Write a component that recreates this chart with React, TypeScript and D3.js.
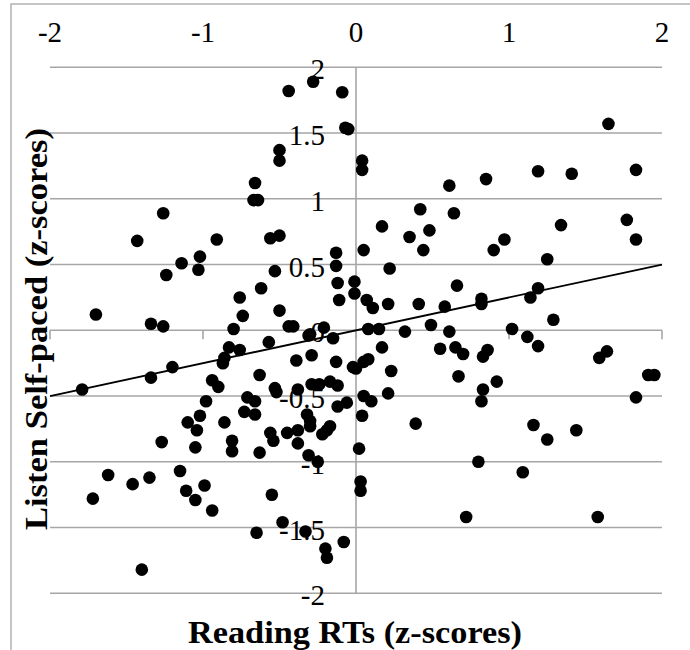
import React from "react";
import * as d3 from "d3";

// Reading RTs (z-scores)
const readingRT: number[] = [
  -1.26, -1.43, -0.91, -1.02, -1.14, -1.03, -1.24, -0.76, -0.74, -1.70,
  -1.34, -1.26, -0.80, -0.66, -0.67, -0.64, -0.44, -0.28, -0.09, -0.07,
  -0.05, -0.50, -0.50, 0.04, 0.04, 0.61, 0.42, 0.64, 0.17, 0.35,
  0.48, 0.44, -0.56, -0.50, -0.13, -0.13, 0.05, -0.53, 0.22, -0.62,
  -0.50, -0.12, -0.01, -0.01, -0.11, 0.07, 0.11, 0.21, 0.41, 0.58,
  0.66, -0.44, -0.41, -0.21, -0.30, 0.08, 0.15, 0.32, 0.49, 0.61,
  1.65, 1.19, 1.41, 1.83, 0.85, 1.34, 1.77, 1.83, 0.97, 0.90,
  1.25, 0.82, 0.82, 1.19, 1.14, 1.29, 1.02, 1.12, 1.19, -1.79,
  -1.34, -1.20, -0.83, -0.76, -0.86, -0.87, -0.94, -0.90, -0.71, -0.73,
  -0.98, -1.02, -1.10, -1.04, -0.86, -0.81, -0.81, -1.27, -1.05, -1.15,
  -1.62, -1.46, -1.35, -1.72, -1.11, -0.99, -1.05, -0.94, -1.40, -0.31,
  -0.15, -0.57, -0.29, -0.39, -0.13, -0.02, 0.00, 0.05, 0.08, 0.17,
  0.23, 0.21, 0.55, 0.65, 0.67, -0.63, -0.53, -0.52, -0.38, -0.29,
  -0.24, -0.17, -0.12, -0.66, -0.66, -0.12, -0.06, 0.05, 0.10, 0.04,
  0.39, -0.32, -0.30, -0.30, -0.17, -0.19, -0.22, -0.56, -0.54, -0.45,
  -0.38, -0.38, -0.63, -0.31, -0.25, 0.02, 0.03, 0.03, -0.55, -0.48,
  -0.65, -0.33, -0.20, -0.19, -0.08, 0.70, 0.83, 0.86, 0.83, 0.82,
  0.92, 1.59, 1.64, 1.91, 1.95, 1.83, 1.16, 1.25, 1.44, 0.80,
  1.09, 0.72, 1.58,
];

// Listen Self-paced (z-scores)
const listenSP: number[] = [
  0.89, 0.68, 0.69, 0.56, 0.51, 0.46, 0.42, 0.25, 0.11, 0.12,
  0.05, 0.03, 0.01, 1.12, 0.99, 0.99, 1.82, 1.89, 1.81, 1.54,
  1.53, 1.37, 1.29, 1.29, 1.22, 1.10, 0.92, 0.89, 0.79, 0.71,
  0.76, 0.61, 0.70, 0.72, 0.59, 0.49, 0.61, 0.45, 0.47, 0.32,
  0.15, 0.36, 0.37, 0.28, 0.23, 0.23, 0.17, 0.20, 0.20, 0.18,
  0.34, 0.03, 0.03, 0.02, -0.03, 0.01, 0.01, -0.01, 0.04, -0.01,
  1.57, 1.21, 1.19, 1.22, 1.15, 0.80, 0.84, 0.69, 0.69, 0.61,
  0.54, 0.24, 0.20, 0.32, 0.25, 0.08, 0.01, -0.05, -0.12, -0.45,
  -0.36, -0.28, -0.13, -0.15, -0.21, -0.25, -0.38, -0.43, -0.51, -0.62,
  -0.54, -0.65, -0.70, -0.76, -0.70, -0.84, -0.92, -0.85, -0.89, -1.07,
  -1.10, -1.17, -1.12, -1.28, -1.22, -1.18, -1.29, -1.37, -1.82, -0.04,
  -0.06, -0.09, -0.19, -0.23, -0.24, -0.28, -0.29, -0.24, -0.22, -0.13,
  -0.31, -0.48, -0.14, -0.13, -0.35, -0.34, -0.44, -0.47, -0.45, -0.41,
  -0.41, -0.39, -0.42, -0.54, -0.64, -0.58, -0.55, -0.50, -0.54, -0.65,
  -0.71, -0.64, -0.69, -0.73, -0.73, -0.76, -0.79, -0.78, -0.84, -0.78,
  -0.76, -0.86, -0.93, -0.95, -1.00, -0.90, -1.15, -1.22, -1.25, -1.46,
  -1.54, -1.53, -1.66, -1.73, -1.61, -0.18, -0.20, -0.15, -0.45, -0.54,
  -0.39, -0.21, -0.16, -0.34, -0.34, -0.51, -0.72, -0.83, -0.76, -1.00,
  -1.08, -1.42, -1.42,
];

const xTicks: number[] = [-2, -1, 0, 1, 2];
const yTicks: number[] = [-2, -1.5, -1, -0.5, 0, 0.5, 1, 1.5, 2];
const trendSlope = 0.25;
const trendIntercept = 0.0;
const xTitle = "Reading RTs (z-scores)";
const yTitle = "Listen Self-paced (z-scores)";

const W = 690;
const H = 650;
const plotLeft = 50;
const plotRight = 662;
const plotTop = 67.3;
const plotBottom = 593.3;
const grid = "#a6a6a6";
const font = "'Liberation Serif', 'Times New Roman', serif";

export default function App() {
  const x = d3.scaleLinear().domain([-2, 2]).range([plotLeft, plotRight]);
  const y = d3.scaleLinear().domain([-2, 2]).range([plotBottom, plotTop]);
  const fmt = (v: number) => String(v);
  const points = readingRT.map((v, i) => [v, listenSP[i]] as [number, number]);
  const lineGen = d3
    .line<number>()
    .x((d) => x(d))
    .y((d) => y(trendSlope * d + trendIntercept));

  return (
    <svg
      width={W}
      height={H}
      style={{ position: "absolute", left: 0, top: 0, background: "#fff" }}
    >
      <rect x={0} y={0} width={W} height={H} fill="#fff" />
      <rect
        x={11}
        y={4}
        width={W + 20}
        height={H + 20}
        fill="none"
        stroke={grid}
        strokeWidth={1.3}
      />
      {yTicks.map((t) => (
        <line
          key={"g" + t}
          x1={plotLeft}
          x2={plotRight}
          y1={y(t)}
          y2={y(t)}
          stroke={grid}
          strokeWidth={1.6}
        />
      ))}
      <line
        x1={x(0)}
        x2={x(0)}
        y1={y(2)}
        y2={y(-2)}
        stroke={grid}
        strokeWidth={1.6}
      />
      {xTicks.map((t) => (
        <line
          key={"t" + t}
          x1={x(t)}
          x2={x(t)}
          y1={y(0)}
          y2={y(0) + 9}
          stroke={grid}
          strokeWidth={1.6}
        />
      ))}
      {xTicks.map((t) => (
        <text
          key={"xl" + t}
          x={x(t)}
          y={41.5}
          textAnchor="middle"
          fontFamily={font}
          fontSize={29}
          fill="#000"
        >
          {fmt(t)}
        </text>
      ))}
      {yTicks.map((t) => (
        <text
          key={"yl" + t}
          x={325}
          y={y(t) + 12}
          textAnchor="end"
          fontFamily={font}
          fontSize={29}
          fill="#000"
        >
          {fmt(t)}
        </text>
      ))}
      <path
        d={lineGen([-2, 2]) || ""}
        stroke="#000"
        strokeWidth={1.8}
        fill="none"
      />
      {points.map((p, i) => (
        <circle key={"p" + i} cx={x(p[0])} cy={y(p[1])} r={6.3} fill="#000" />
      ))}
      <text
        x={355}
        y={643}
        textAnchor="middle"
        fontFamily={font}
        fontWeight="bold"
        fontSize={31}
        textLength={334}
        lengthAdjust="spacingAndGlyphs"
        fill="#000"
      >
        {xTitle}
      </text>
      <text
        transform={`translate(47, 329) rotate(-90)`}
        textAnchor="middle"
        fontFamily={font}
        fontWeight="bold"
        fontSize={32}
        textLength={402}
        lengthAdjust="spacingAndGlyphs"
        fill="#000"
      >
        {yTitle}
      </text>
    </svg>
  );
}
